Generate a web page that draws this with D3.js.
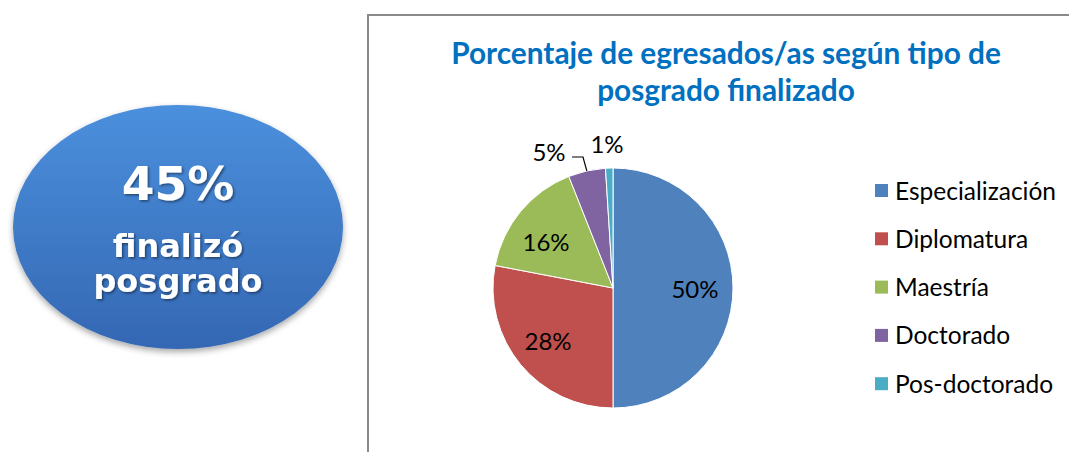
<!DOCTYPE html>
<html>
<head>
<meta charset="utf-8">
<script src="https://cdn.jsdelivr.net/npm/d3@7"></script>
<style>
  body { margin: 0; background: #fff; }
  svg { display: block; }
</style>
</head>
<body>
<svg id="chart"></svg>
<script>
// data
const categories = ["Especialización", "Diplomatura", "Maestría", "Doctorado", "Pos-doctorado"];
const values = [50, 28, 16, 5, 1];
const colors = ["#4f81bd", "#c0504d", "#9bbb59", "#8064a2", "#4bacc6"];
const titleLines = ["Porcentaje de egresados/as según tipo de", "posgrado finalizado"];
const badgeLines = ["45%", "finalizó", "posgrado"];

const width = 1069, height = 452;
const svg = d3.select("#chart").attr("width", width).attr("height", height);

const defs = svg.append("defs");
const grad = defs.append("linearGradient").attr("id", "ovalGrad")
    .attr("x1", 0).attr("y1", 0).attr("x2", 0).attr("y2", 1);
grad.append("stop").attr("offset", "0%").attr("stop-color", "#4b90dd");
grad.append("stop").attr("offset", "100%").attr("stop-color", "#3467b3");
const shadow = defs.append("filter").attr("id", "ovalShadow")
    .attr("x", "-10%").attr("y", "-10%").attr("width", "120%").attr("height", "130%");
shadow.append("feDropShadow").attr("dx", 0).attr("dy", 3).attr("stdDeviation", 3)
    .attr("flood-color", "#000").attr("flood-opacity", 0.35);
const txtShadow = defs.append("filter").attr("id", "txtShadow");
txtShadow.append("feDropShadow").attr("dx", 1.5).attr("dy", 1.5).attr("stdDeviation", 1)
    .attr("flood-color", "#000").attr("flood-opacity", 0.45);

// left badge
const badge = svg.append("g").attr("transform", "translate(178,227)");
badge.append("ellipse").attr("rx", 165).attr("ry", 122)
    .attr("fill", "url(#ovalGrad)").attr("filter", "url(#ovalShadow)");
const badgeSizes = [47, 32, 32];
const badgeY = [-27, 30, 65];
badge.selectAll("text.b").data(badgeLines).join("text")
    .attr("class", "b")
    .attr("text-anchor", "middle")
    .attr("y", (d, i) => badgeY[i])
    .attr("font-family", "DejaVu Sans, Verdana, sans-serif")
    .attr("font-weight", "bold")
    .attr("font-size", (d, i) => badgeSizes[i])
    .attr("fill", "#fff")
    .attr("filter", "url(#txtShadow)")
    .text(d => d);

// chart frame
svg.append("rect")
    .attr("x", 368).attr("y", 15).attr("width", 720).attr("height", 460)
    .attr("fill", "#fff").attr("stroke", "#898989").attr("stroke-width", 2);

// title
svg.append("g").selectAll("text").data(titleLines).join("text")
    .attr("x", 726)
    .attr("y", (d, i) => 64 + i * 37)
    .attr("text-anchor", "middle")
    .attr("font-family", "Lato, 'Open Sans', sans-serif")
    .attr("font-weight", "bold")
    .attr("font-size", 29.8)
    .attr("fill", "#0070c0")
    .text(d => d);

// pie
const cx = 613, cy = 288, r = 120;
const pie = d3.pie().sort(null).value(d => d)(values);
const arc = d3.arc().innerRadius(0).outerRadius(r);
const g = svg.append("g").attr("transform", `translate(${cx},${cy})`);
g.selectAll("path").data(pie).join("path")
    .attr("d", arc)
    .attr("fill", (d, i) => colors[i])
    .attr("stroke", "#fff")
    .attr("stroke-width", 1);

// data labels (offsets relative to the pie centre)
const labelPos = [[82, 2], [-65, 54], [-67, -45], [-64, -135], [-6, -143]];
g.selectAll("text.lbl").data(pie).join("text")
    .attr("class", "lbl")
    .attr("x", (d, i) => labelPos[i][0])
    .attr("y", (d, i) => labelPos[i][1])
    .attr("dy", "0.35em")
    .attr("text-anchor", "middle")
    .attr("font-family", "Lato, 'Open Sans', sans-serif")
    .attr("font-size", 24)
    .attr("fill", "#000")
    .text(d => d3.format(".0%")(d.data / d3.sum(values)));

// leader line for small slice
const small = pie[3];
const mid = (small.startAngle + small.endAngle) / 2;
const edge = [Math.sin(mid) * r, -Math.cos(mid) * r];
g.append("path")
    .attr("d", d3.line()([[-41, -131], [-30, -131], edge]))
    .attr("fill", "none").attr("stroke", "#000").attr("stroke-width", 1.2);

// legend
const legend = svg.append("g").attr("transform", "translate(875,191)");
const rows = legend.selectAll("g").data(categories).join("g")
    .attr("transform", (d, i) => `translate(0,${i * 48.3})`);
rows.append("rect").attr("x", 0).attr("y", -7).attr("width", 13).attr("height", 13)
    .attr("fill", (d, i) => colors[i]);
rows.append("text").attr("x", 20).attr("dy", "0.35em")
    .attr("font-family", "Lato, 'Open Sans', sans-serif")
    .attr("font-size", 24.5).attr("fill", "#000")
    .text(d => d);
</script>
</body>
</html>
